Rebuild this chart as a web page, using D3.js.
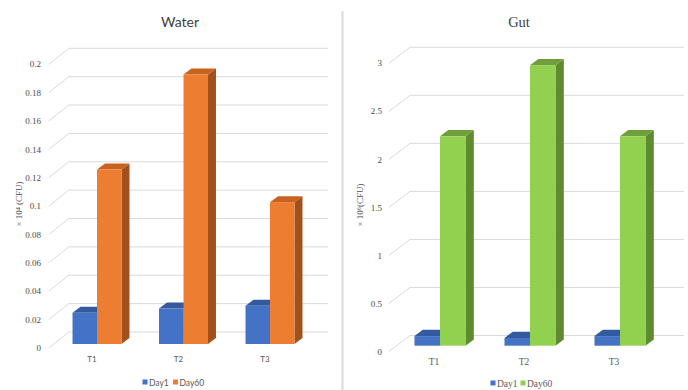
<!DOCTYPE html>
<html>
<head>
<meta charset="utf-8">
<script src="https://cdn.jsdelivr.net/npm/d3@7"></script>
<style>
  html, body { margin: 0; padding: 0; background: #fff; }
  svg { display: block; }
</style>
</head>
<body>
<svg id="chart" width="688" height="390"></svg>
<script>
// Bacterial counts per treatment, sampled on day 1 and day 60
const categories = ["T1", "T2", "T3"];
const seriesNames = ["Day1", "Day60"];

const waterDay1 = [0.022, 0.025, 0.027];
const waterDay60 = [0.123, 0.19, 0.1];
const waterTicks = [0, 0.02, 0.04, 0.06, 0.08, 0.1, 0.12, 0.14, 0.16, 0.18, 0.2];

const gutDay1 = [0.1, 0.08, 0.1];
const gutDay60 = [2.18, 2.92, 2.18];
const gutTicks = [0, 0.5, 1, 1.5, 2, 2.5, 3];

const svg = d3.select("#chart");

// divider between the two panels
svg.append("line")
  .attr("x1", 342.5).attr("x2", 342.5)
  .attr("y1", 11).attr("y2", 390)
  .attr("stroke", "#dcdcdc").attr("stroke-width", 2);

const palettes = {
  blue:   { front: "#4472C4", top: "#335A9F", side: "#2C4E8A" },
  orange: { front: "#ED7D31", top: "#C9611F", side: "#A3511C" },
  green:  { front: "#92D050", top: "#6F9E3A", side: "#5E8A30" }
};

function drawPanel(cfg) {
  const g = svg.append("g");

  const y = d3.scaleLinear().domain(cfg.domain).range([cfg.y0, cfg.yTop]);
  const x = d3.scaleBand().domain(categories).range(cfg.xRange)
    .paddingInner(cfg.pad).paddingOuter(cfg.pad / 2);
  const xs = d3.scaleBand().domain(seriesNames).range([0, x.bandwidth()]);

  // title
  g.append("text")
    .attr("x", cfg.titleX).attr("y", cfg.titleY)
    .attr("text-anchor", "middle")
    .attr("font-family", cfg.titleFont)
    .attr("font-size", cfg.titleSize)
    .attr("fill", "#404040")
    .text(cfg.title);

  // gridlines: front-left diagonal, then across the back wall
  const [bdx, bdy] = cfg.back;
  const grid = g.append("g");
  cfg.ticks.forEach(t => {
    const yf = y(t);
    grid.append("path")
      .attr("d", `M${cfg.xRange[0]},${yf} L${cfg.xRange[0] + bdx},${yf + bdy} L${cfg.gridEnd},${yf + bdy}`)
      .attr("fill", "none")
      .attr("stroke", "#dadada")
      .attr("stroke-width", 1);
    grid.append("text")
      .attr("x", cfg.tickX).attr("y", yf)
      .attr("dy", "0.35em")
      .attr("text-anchor", "end")
      .attr("font-family", "Liberation Serif, serif")
      .attr("font-size", cfg.tickSize)
      .attr("fill", "#4a4a4a")
      .text(cfg.tickFmt(t));
  });

  // axis title
  g.append("text")
    .attr("transform", `translate(${cfg.axisTitleX},${cfg.axisTitleY}) rotate(-90)`)
    .attr("text-anchor", "middle")
    .attr("font-family", "Liberation Serif, serif")
    .attr("font-size", 9)
    .attr("fill", "#4a4a4a")
    .text(cfg.axisTitle);

  // category labels on the front edge
  categories.forEach(c => {
    g.append("text")
      .attr("x", x(c) + x.bandwidth() / 2)
      .attr("y", cfg.catY)
      .attr("text-anchor", "middle")
      .attr("font-family", cfg.catFont)
      .attr("font-size", cfg.catSize)
      .attr("fill", "#595959")
      .text(c);
  });

  // 3D bars: side, top, then front face; Day60 drawn after Day1 so it overlaps
  const [ox, oy] = cfg.barOffset;
  const [ddx, ddy] = cfg.depth;
  const base = y(0) + oy;
  const bars = g.append("g");
  categories.forEach((c, i) => {
    seriesNames.forEach((s, k) => {
      const v = cfg.values[k][i];
      const pal = palettes[cfg.colors[k]];
      const x0 = x(c) + xs(s) + ox;
      const w = xs.bandwidth();
      const yt = y(v) + oy;
      bars.append("path")
        .attr("d", `M${x0 + w},${yt} L${x0 + w + ddx},${yt + ddy} L${x0 + w + ddx},${base + ddy} L${x0 + w},${base} Z`)
        .attr("fill", pal.side);
      bars.append("path")
        .attr("d", `M${x0},${yt} L${x0 + ddx},${yt + ddy} L${x0 + w + ddx},${yt + ddy} L${x0 + w},${yt} Z`)
        .attr("fill", pal.top);
      bars.append("rect")
        .attr("x", x0).attr("y", yt)
        .attr("width", w).attr("height", base - yt)
        .attr("fill", pal.front);
    });
  });

  // legend
  const leg = g.append("g");
  cfg.legend.forEach((item, k) => {
    leg.append("rect")
      .attr("x", item.x).attr("y", cfg.legendY - 3.5)
      .attr("width", 5).attr("height", 5)
      .attr("fill", palettes[cfg.colors[k]].front);
    leg.append("text")
      .attr("x", item.x + 6.5).attr("y", cfg.legendY)
      .attr("dy", "0.35em")
      .attr("font-family", cfg.legendFont)
      .attr("font-size", cfg.legendSize)
      .attr("fill", "#595959")
      .text(seriesNames[k]);
  });
}

drawPanel({
  title: "Water", titleX: 180, titleY: 27,
  titleFont: "Lato, 'Open Sans', sans-serif", titleSize: 14,
  domain: [0, 0.2], y0: 348, yTop: 64.3,
  xRange: [48.75, 308.25], pad: 0.434,
  ticks: waterTicks, tickX: 41, tickSize: 9,
  tickFmt: d => d === 0 ? "0" : d3.format("~g")(d),
  back: [20, -16], gridEnd: 328,
  barOffset: [5, -4], depth: [8, -6],
  values: [waterDay1, waterDay60], colors: ["blue", "orange"],
  axisTitle: "× 10⁴ (CFU)", axisTitleX: 22, axisTitleY: 204,
  catY: 362, catFont: "Lato, 'Open Sans', sans-serif", catSize: 8,
  legend: [{ x: 142.5 }, { x: 173 }], legendY: 383,
  legendFont: "Lato, 'Open Sans', sans-serif", legendSize: 8.5
});

drawPanel({
  title: "Gut", titleX: 519, titleY: 27,
  titleFont: "Liberation Serif, serif", titleSize: 14.5,
  domain: [0, 3], y0: 351.5, yTop: 63.3,
  xRange: [389, 659], pad: 0.433,
  ticks: gutTicks, tickX: 382, tickSize: 9,
  tickFmt: d => d3.format("~g")(d),
  back: [21, -16], gridEnd: 684,
  barOffset: [6, -5.8], depth: [8.3, -6.3],
  values: [gutDay1, gutDay60], colors: ["blue", "green"],
  axisTitle: "× 10⁶(CFU)", axisTitleX: 363, axisTitleY: 205,
  catY: 365, catFont: "Liberation Serif, serif", catSize: 9.5,
  legend: [{ x: 490.5 }, { x: 520.5 }], legendY: 384,
  legendFont: "Liberation Serif, serif", legendSize: 9.5
});
</script>
</body>
</html>
